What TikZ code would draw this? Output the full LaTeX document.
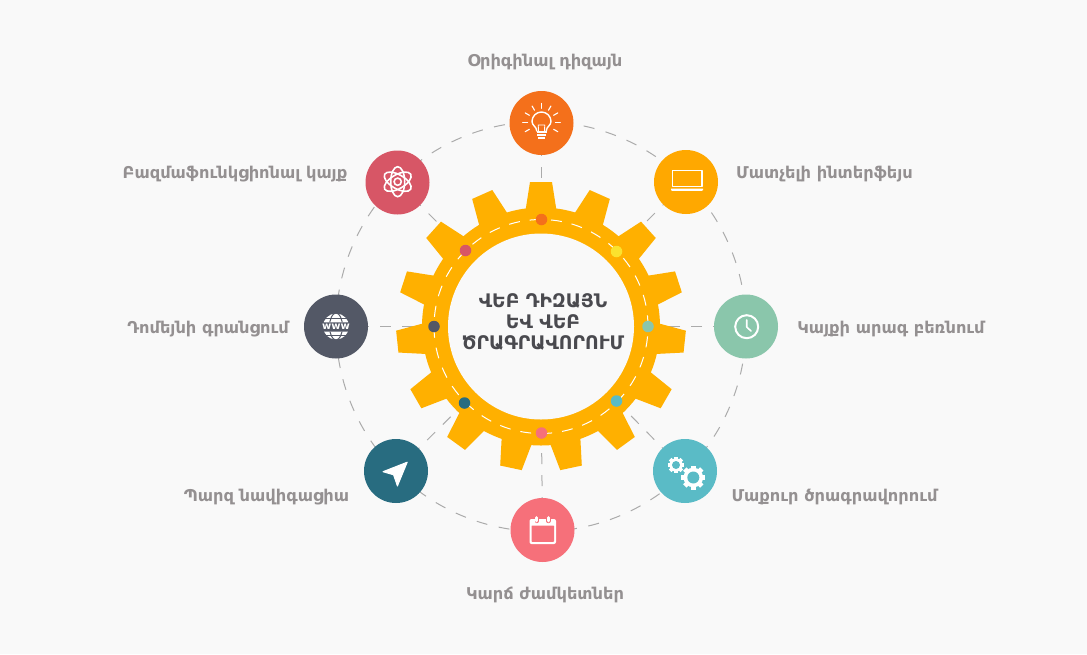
\documentclass[tikz,border=0pt]{standalone}
\usepackage{fontspec}
\setmainfont{DejaVu Sans}
\usetikzlibrary{backgrounds}
\definecolor{pagebg}{HTML}{F9F9F9}
\definecolor{gearcol}{HTML}{FFB000}
\definecolor{ringline}{HTML}{ABABAB}
\definecolor{labelcol}{HTML}{949091}
\definecolor{titlecol}{HTML}{4A4A4F}
\definecolor{cOrange}{HTML}{F4701B}
\definecolor{cAmber}{HTML}{FFA800}
\definecolor{cGreen}{HTML}{8AC6AB}
\definecolor{cTeal}{HTML}{5ABBC6}
\definecolor{cCoral}{HTML}{F6707A}
\definecolor{cPetrol}{HTML}{286C80}
\definecolor{cSlate}{HTML}{535866}
\definecolor{cRose}{HTML}{D75666}
\definecolor{cYellow}{HTML}{FBE22E}
\tikzset{
  x=1pt,y=-1pt,
  iconnode/.style={circle,minimum size=64pt,inner sep=0pt,outer sep=0pt,fill=#1},
  dotnode/.style={circle,minimum size=11.5pt,inner sep=0pt,outer sep=0pt,fill=#1},
  itemlabel/.style={font=\bfseries\fontsize{16.25}{19}\selectfont,text=labelcol,inner sep=0pt,anchor=center},
  spoke/.style={draw=ringline,line width=1pt,dash pattern=on 11pt off 11pt},
  iconline/.style={draw=white,line width=1.4pt,line cap=round,line join=round},
}
\begin{document}
\begin{tikzpicture}
\useasboundingbox (0,0) rectangle (1087,654);
\coordinate (c) at (541,326.5);
% icon discs
\node[iconnode=cOrange] (top) at (541.5,123) {};
\node[iconnode=cAmber] (ur) at (686,182) {};
\node[iconnode=cGreen] (right) at (746,326.5) {};
\node[iconnode=cTeal] (lr) at (685,471) {};
\node[iconnode=cCoral] (bottom) at (542.5,530) {};
\node[iconnode=cPetrol] (ll) at (396,471) {};
\node[iconnode=cSlate] (left) at (336,326.5) {};
\node[iconnode=cRose] (ul) at (397.5,182.5) {};
% gear
\foreach \a in {0,24,...,336}{
  \fill[gearcol,shift={(c)},rotate=\a] (-15.5,-116) -- (-11,-144.5) -- (11,-144.5) -- (15.5,-116) -- cycle;
}
\fill[gearcol] (c) circle[radius=119];
\fill[pagebg] (c) circle[radius=93];
\draw[white,line width=1pt,dash pattern=on 11pt off 10pt,dash phase=11pt] (541,219.5) arc (-90:270:107);
% ring dots
\node[dotnode=cOrange] (d1) at (541.5,219.5) {};
\node[dotnode=cYellow] (d2) at (616.5,251.5) {};
\node[dotnode=cGreen] (d3) at (648,326.5) {};
\node[dotnode=cTeal] (d4) at (616.5,401) {};
\node[dotnode=cCoral] (d5) at (541.5,433) {};
\node[dotnode=cPetrol] (d6) at (464.5,403) {};
\node[dotnode=cSlate] (d7) at (434,326.5) {};
\node[dotnode=cRose] (d8) at (465.5,250.5) {};
% background and connectors behind everything
\begin{pgfonlayer}{background}
\fill[pagebg] (0,0) rectangle (1087,654);
\draw[ringline,line width=1pt,dash pattern=on 11pt off 11.6pt,dash phase=2.2pt] (541,121.5) arc (-90:270:205);
\foreach \i/\d in {top/d1,ur/d2,right/d3,lr/d4,bottom/d5,ll/d6,left/d7,ul/d8}{
  \draw[spoke] (\i.center) -- (\d.center);
}
\end{pgfonlayer}
% labels
\node[itemlabel] (t1) at (545,62.5) {Օրիգինալ դիզայն};
\node[itemlabel] (t2) at (824.5,174.5) {Մատչելի ինտերֆեյս};
\node[itemlabel] (t3) at (891,329.5) {Կայքի արագ բեռնում};
\node[itemlabel] (t4) at (834.5,497.5) {Մաքուր ծրագրավորում};
\node[itemlabel] (t5) at (545,594.5) {Կարճ ժամկետներ};
\node[itemlabel] (t6) at (266.5,497.5) {Պարզ նավիգացիա};
\node[itemlabel] (t7) at (208,329.5) {Դոմեյնի գրանցում};
\node[itemlabel] (t8) at (235,174.5) {Բազմաֆունկցիոնալ կայք};
\node[font=\bfseries\fontsize{18.7}{21}\selectfont,text=titlecol,align=center,inner sep=0pt] (title) at (543,322) {ՎԵԲ ԴԻԶԱՅՆ\\ԵՎ ՎԵԲ\\ԾՐԱԳՐԱՎՈՐՈՒՄ};
% bulb
\begin{scope}[shift={(top.center)}]
  \foreach \a in {-210,-180,...,30}{ \draw[iconline,line width=1.1pt] (0,-.7) ++(\a:14) -- ++(\a:4.8); }
  \draw[iconline] (-4.7,8) .. controls (-5,3.5) and (-9.5,2.5) .. (-9.5,-1.5) arc (180:360:9.5) .. controls (9.5,2.5) and (5,3.5) .. (4.7,8);
  \draw[iconline,line width=.9pt] (-3,8) -- (-3.3,2) -- (3.3,2) -- (3,8);
  \fill[white] (-5,8) rectangle (5,10); \fill[white] (-4.6,11) rectangle (4.6,13); \fill[white] (-3.4,14) rectangle (3.4,16);
\end{scope}
% laptop
\draw[iconline,line cap=butt] (672.7,170.5) rectangle (702,186.7);
\fill[white] (671,188.6) -- (703,188.6) -- (703,190) -- (702,190.8) -- (672,190.8) -- (671,190) -- cycle;
% clock
\draw[iconline,line width=2pt] (746.7,326.7) circle[radius=11.5];
\draw[iconline,line width=1.6pt] (746.7,320) -- (746.7,327) -- (751,331);
% cogs
\begin{scope}[shift={(676,465)}]
  \foreach \a in {0,45,...,315}{ \fill[white,rotate=\a] (-1.8,-8.2) rectangle (1.8,-4); }
  \fill[white] (0,0) circle[radius=6.6];
  \fill[cTeal] (0,0) circle[radius=4];
\end{scope}
\begin{scope}[shift={(693.3,477.5)}]
  \foreach \a in {0,45,...,315}{ \fill[white,rotate=\a] (-2.4,-12) rectangle (2.4,-6); }
  \fill[white] (0,0) circle[radius=9.8];
  \fill[cTeal] (0,0) circle[radius=6];
\end{scope}
% calendar
\fill[white,rounded corners=2pt] (529.5,519) rectangle (556,544);
\fill[cCoral,rounded corners=.7pt] (531.5,525.5) rectangle (554,541.8);
\draw[cCoral,line width=4.4pt,line cap=round] (536.7,517.5) -- (536.7,521) (548.3,517.5) -- (548.3,521);
\draw[white,line width=2.6pt,line cap=round] (536.7,517.5) -- (536.7,521) (548.3,517.5) -- (548.3,521);
% navigation arrow
\fill[white,draw=white,line width=1pt,line join=round] (407.2,462.2) -- (383,471.7) -- (393.6,474.8) -- (397.4,486) -- cycle;
% globe
\begin{scope}[shift={(left.center)}]
  \begin{scope}
    \clip (-14,-14) rectangle (14,-4.2) (-14,5.2) rectangle (14,14);
    \fill[white] (0,0) circle[radius=13];
    \draw[cSlate,line width=1pt] (0,0) ellipse[x radius=6.5,y radius=13.5];
    \draw[cSlate,line width=1pt] (-13,-8.5) -- (13,-8.5) (-13,9.3) -- (13,9.3);
  \end{scope}
  \node[font=\bfseries\fontsize{10}{10}\selectfont,text=white,inner sep=0pt] (www) at (0,0) {www};
\end{scope}
% atom
\begin{scope}[shift={(397.7,181.7)}]
  \foreach \a in {30,90,150}{ \draw[white,line width=1.6pt,rotate=\a] (0,0) ellipse[x radius=15,y radius=7]; }
  \draw[white,line width=1.6pt] (0,0) circle[radius=3.6];
\end{scope}
\end{tikzpicture}
\end{document}
